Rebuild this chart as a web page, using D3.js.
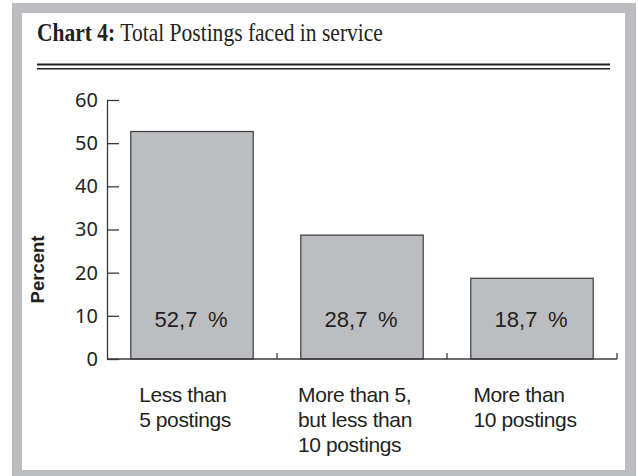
<!DOCTYPE html>
<html>
<head>
<meta charset="utf-8">
<script src="https://cdn.jsdelivr.net/npm/d3@7"></script>
<style>
  html, body { margin: 0; padding: 0; background: #ffffff; }
  svg { display: block; }
</style>
</head>
<body>
<svg id="chart" width="638" height="476"></svg>
<script>
// ---- data ----
const titleBold = "Chart 4:";
const titleRest = " Total Postings faced in service";
const categories = ["Less than 5 postings", "More than 5, but less than 10 postings", "More than 10 postings"];
const categoryLines = [
  ["Less than", "5 postings"],
  ["More than 5,", "but less than", "10 postings"],
  ["More than", "10 postings"]
];
const values = [52.7, 28.7, 18.7];
const valueLabels = ["52,7 %", "28,7 %", "18,7 %"];
const yTicks = [0, 10, 20, 30, 40, 50, 60];
const yLabel = "Percent";

// ---- drawing ----
const svg = d3.select("#chart");
const frameGray = "#bcbdc0";
const ink = "#231f20";

// frame
svg.append("rect").attr("x", 12).attr("y", 3).attr("width", 624).attr("height", 473).attr("fill", frameGray);
svg.append("rect").attr("x", 22).attr("y", 13).attr("width", 603).attr("height", 457).attr("fill", "#ffffff");

// title (single text, horizontally condensed to match the reference)
const title = svg.append("text")
  .attr("x", 0).attr("y", 0)
  .attr("font-family", "'Liberation Serif', 'DejaVu Serif', serif")
  .attr("font-size", 26)
  .attr("fill", ink);
title.append("tspan").attr("font-weight", "bold").text(titleBold);
title.append("tspan").text(titleRest);
const tw = title.node().getBBox().width;
title.attr("transform", `translate(37,41) scale(${346 / tw},1)`);

// double rule
svg.append("line").attr("x1", 37).attr("x2", 610).attr("y1", 64.5).attr("y2", 64.5)
  .attr("stroke", ink).attr("stroke-width", 2);
svg.append("line").attr("x1", 37).attr("x2", 610).attr("y1", 68.8).attr("y2", 68.8)
  .attr("stroke", ink).attr("stroke-width", 1.4);

// scales
const y = d3.scaleLinear().domain([0, 60]).range([359, 100]);
const x = d3.scaleBand().domain(categories).range([107, 617]).paddingInner(0.28).paddingOuter(0.14);

// bars
svg.append("g").selectAll("rect").data(values).join("rect")
  .attr("x", (d, i) => x(categories[i]))
  .attr("y", d => y(d))
  .attr("width", x.bandwidth())
  .attr("height", d => y(0) - y(d))
  .attr("fill", frameGray)
  .attr("stroke", "#3a3a3c")
  .attr("stroke-width", 1.2);

// value labels inside bars
svg.append("g").selectAll("text").data(valueLabels).join("text")
  .attr("x", (d, i) => x(categories[i]) + x.bandwidth() / 2 - 1)
  .attr("y", y(0) - 32)
  .attr("text-anchor", "middle")
  .attr("font-family", "'Liberation Sans', Arial, sans-serif")
  .attr("font-size", 22)
  .attr("fill", ink)
  .style("white-space", "pre")
  .text(d => d.replace(" ", "\u00a0\u2009"));

// y axis
const yAxis = d3.axisLeft(y).tickValues(yTicks).tickSizeInner(-12).tickSizeOuter(0).tickPadding(9);
const gy = svg.append("g").attr("transform", "translate(107,0)").call(yAxis);
gy.select(".domain").attr("stroke", "#3a3a3c").attr("stroke-width", 1.3);
gy.selectAll(".tick line").attr("stroke", "#3a3a3c").attr("stroke-width", 1.3);
gy.selectAll(".tick text")
  .attr("font-family", "'Noto Sans', 'Open Sans', sans-serif")
  .attr("font-size", 20)
  .attr("fill", ink);

// x axis baseline
svg.append("line").attr("x1", 107).attr("x2", 617).attr("y1", y(0)).attr("y2", y(0))
  .attr("stroke", "#3a3a3c").attr("stroke-width", 1.5);
// x ticks at band boundaries
const boundaries = categories.map(c => x(c) + x.bandwidth() + x.step() * x.paddingInner() / 2);
svg.append("g").selectAll("line").data(boundaries).join("line")
  .attr("x1", d => d).attr("x2", d => d)
  .attr("y1", y(0)).attr("y2", y(0) - 6)
  .attr("stroke", "#3a3a3c").attr("stroke-width", 1.3);

// y label
svg.append("text")
  .attr("transform", `translate(44, ${(y(0) + y(60)) / 2 + 40}) rotate(-90)`)
  .attr("text-anchor", "middle")
  .attr("font-family", "'Liberation Sans', Arial, sans-serif")
  .attr("font-weight", "bold")
  .attr("font-size", 18.5)
  .attr("fill", ink)
  .text(yLabel);

// category labels
categoryLines.forEach((lines, i) => {
  const t = svg.append("text")
    .attr("font-family", "'Liberation Sans', Arial, sans-serif")
    .attr("font-size", 21)
    .attr("letter-spacing", -0.4)
    .attr("fill", ink);
  lines.forEach((ln, j) => {
    t.append("tspan").attr("x", 0).attr("y", 402 + j * 25).text(ln);
  });
  const w = d3.max(t.selectAll("tspan").nodes(), n => n.getComputedTextLength());
  const cx = x(categories[i]) + x.bandwidth() / 2 - 7;
  t.selectAll("tspan").attr("x", cx - w / 2);
});
</script>
</body>
</html>
